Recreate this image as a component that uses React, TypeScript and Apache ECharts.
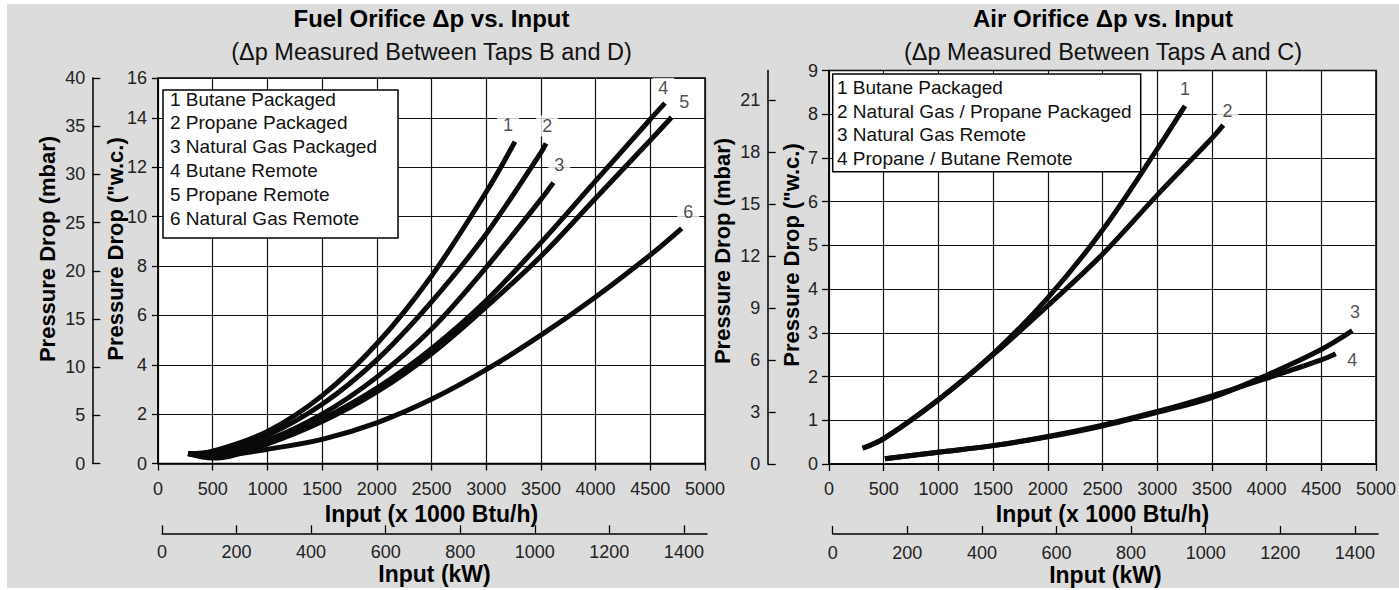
import React, { useEffect, useRef } from 'react';
import * as echarts from 'echarts';

const FONT = '"Liberation Sans", Arial, Helvetica, sans-serif';

// ---------- Fuel orifice chart (x: input x1000 Btu/h, y: pressure drop "w.c.) ----------
const fuelNames = [
  '1 Butane Packaged',
  '2 Propane Packaged',
  '3 Natural Gas Packaged',
  '4 Butane Remote',
  '5 Propane Remote',
  '6 Natural Gas Remote',
];
const fuelButanePackaged = [[275, 0.4], [500, 0.5], [1000, 1.3], [1500, 2.75], [2000, 4.85], [2500, 7.6], [3000, 11.0], [3263, 13.04]];
const fuelPropanePackaged = [[275, 0.4], [500, 0.45], [1000, 1.15], [1500, 2.4], [2000, 4.2], [2500, 6.55], [3000, 9.3], [3500, 12.6], [3547, 12.97]];
const fuelNatGasPackaged = [[275, 0.4], [500, 0.35], [1000, 0.95], [1500, 2.0], [2000, 3.5], [2500, 5.45], [3000, 7.95], [3500, 10.7], [3614, 11.38]];
const fuelButaneRemote = [[275, 0.4], [500, 0.28], [1000, 0.85], [1500, 1.8], [2000, 3.05], [2500, 4.65], [3000, 6.6], [3500, 8.95], [4000, 11.45], [4500, 13.95], [4634, 14.6]];
const fuelPropaneRemote = [[275, 0.4], [500, 0.22], [1000, 0.8], [1500, 1.7], [2000, 2.9], [2500, 4.45], [3000, 6.35], [3500, 8.4], [4000, 10.75], [4500, 13.1], [4695, 14.03]];
const fuelNatGasRemote = [[275, 0.4], [500, 0.3], [1000, 0.58], [1500, 0.98], [2000, 1.65], [2500, 2.6], [3000, 3.8], [3500, 5.2], [4000, 6.75], [4500, 8.45], [4787, 9.53]];
const fuelSeries = [fuelButanePackaged, fuelPropanePackaged, fuelNatGasPackaged, fuelButaneRemote, fuelPropaneRemote, fuelNatGasRemote];
const fuelCurveTags = ['1', '2', '3', '4', '5', '6'];
const fuelTagPositions = [[3199, 13.72], [3558, 13.68], [3668, 12.09], [4619, 15.2], [4811, 14.66], [4847, 10.18]];

// ---------- Air orifice chart ----------
const airNames = [
  '1 Butane Packaged',
  '2 Natural Gas / Propane Packaged',
  '3 Natural Gas Remote',
  '4 Propane / Butane Remote',
];
const airButanePackaged = [[307, 0.36], [500, 0.58], [1000, 1.47], [1500, 2.52], [2000, 3.8], [2500, 5.35], [3000, 7.2], [3254, 8.19]];
const airNatGasPropanePackaged = [[307, 0.36], [500, 0.58], [1000, 1.47], [1500, 2.5], [2000, 3.62], [2500, 4.8], [3000, 6.15], [3500, 7.45], [3604, 7.75]];
const airNatGasRemote = [[511, 0.12], [1000, 0.27], [1500, 0.42], [2000, 0.62], [2500, 0.87], [3000, 1.18], [3500, 1.52], [4000, 2.03], [4500, 2.62], [4784, 3.05]];
const airPropaneButaneRemote = [[511, 0.12], [1000, 0.27], [1500, 0.42], [2000, 0.63], [2500, 0.89], [3000, 1.2], [3500, 1.56], [4000, 1.96], [4500, 2.38], [4632, 2.52]];
const airSeries = [airButanePackaged, airNatGasPropanePackaged, airNatGasRemote, airPropaneButaneRemote];
const airCurveTags = ['1', '2', '3', '4'];
const airTagPositions = [[3254, 8.57], [3643, 8.07], [4808, 3.47], [4784, 2.38]];

// ---------- Axes ----------
const btuMax = 5000;
const btuStep = 500;
const kwTicks = [0, 200, 400, 600, 800, 1000, 1200, 1400];
const kwAxisEnd = 1462;
const wcLeftTicks = [0, 2, 4, 6, 8, 10, 12, 14];
const wcLeftTop = 15.62; // top border of the printed chart, labelled "16"
const wcLeftTopLabel = '16';
const mbarLeftMax = 40;
const mbarLeftStep = 5;
const wcRightMax = 9;
const wcRightStep = 1;
const mbarRightTicks = [0, 3, 6, 9, 12, 15, 18, 21];
const mbarRightEnd = 22.73;

const OX = 7;
const OY = 4;
const W = 1392;
const H = 584;

function App() {
  const ref = useRef<HTMLDivElement>(null);

  useEffect(() => {
    if (!ref.current) return;
    const chart = echarts.init(ref.current, null, { renderer: 'svg' });

    const plain = (v: number) => String(v);
    const labelStyle = { fontFamily: FONT, fontSize: 18, color: '#222' };
    const nameStyle = { fontFamily: FONT, fontSize: 23, fontWeight: 'bold' as const, color: '#000' };
    const blackLine = { color: '#000', width: 1.5 };
    const gridLine = { color: '#111', width: 1.2 };

    const btuAxis = (gridIndex: number) => ({
      type: 'value',
      gridIndex,
      min: 0,
      max: btuMax,
      interval: btuStep,
      axisLine: { show: true, lineStyle: blackLine },
      axisTick: { show: true, length: 7, lineStyle: { color: '#000', width: 1.3 } },
      axisLabel: { ...labelStyle, margin: 16, formatter: plain },
      splitLine: { show: true, lineStyle: gridLine },
      name: 'Input (x 1000 Btu/h)',
      nameLocation: 'middle',
      nameGap: 36,
      nameTextStyle: nameStyle,
    });

    const kwAxis = (gridIndex: number) => ({
      type: 'value',
      gridIndex,
      min: 0,
      max: kwAxisEnd,
      interval: 200,
      axisLine: { show: true, lineStyle: blackLine },
      axisTick: { show: true, inside: true, length: 8, customValues: kwTicks, lineStyle: { color: '#000', width: 1.3 } },
      axisLabel: {
        ...labelStyle,
        margin: 10,
        customValues: kwTicks,
        formatter: (v: number) => (kwTicks.indexOf(v) >= 0 ? String(v) : ''),
      },
      splitLine: { show: false },
      name: 'Input (kW)',
      nameLocation: 'middle',
      nameGap: 29,
      nameTextStyle: nameStyle,
    });

    const lineSeries = (name: string, data: number[][], xAxisIndex: number, yAxisIndex: number) => ({
      type: 'line',
      name,
      data,
      xAxisIndex,
      yAxisIndex,
      showSymbol: false,
      symbol: 'none',
      smooth: 0.35,
      silent: true,
      z: 3,
      lineStyle: { color: '#0a0a0a', width: 5 },
    });

    const tagSeries = (tags: string[], pos: number[][], xAxisIndex: number, yAxisIndex: number) => ({
      type: 'scatter',
      xAxisIndex,
      yAxisIndex,
      symbolSize: 0.1,
      silent: true,
      z: 5,
      itemStyle: { color: 'transparent' },
      data: tags.map((t, i) => ({ name: t, value: pos[i] })),
      label: {
        show: true,
        position: 'inside',
        formatter: '{b}',
        fontFamily: FONT,
        fontSize: 18,
        color: '#222',
        backgroundColor: '#fff',
        padding: [2, 6, 1, 6],
      },
    });

    const legendBox = (x: number, y: number, w: number, h: number, names: string[], tx: number, ty0: number, dy: number) => [
      {
        type: 'rect',
        z: 20,
        silent: true,
        shape: { x, y, width: w, height: h },
        style: { fill: '#fff', stroke: '#000', lineWidth: 1.5 },
      },
      ...names.map((n, i) => ({
        type: 'text',
        z: 21,
        silent: true,
        x: tx,
        y: ty0 + i * dy,
        style: { text: n, fontFamily: FONT, fontSize: 19, fill: '#111', align: 'left', verticalAlign: 'middle' },
      })),
    ];

    const yName = (text: string, x: number, y: number) => ({
      type: 'text',
      z: 21,
      silent: true,
      x,
      y,
      rotation: Math.PI / 2,
      style: { text, fontFamily: FONT, fontSize: 22, fontWeight: 'bold', fill: '#000', align: 'center', verticalAlign: 'middle' },
    });

    const titleBlock = (text: string, subtext: string, left: number) => ({
      text,
      subtext,
      left,
      top: 2,
      textAlign: 'center',
      textVerticalAlign: 'top',
      padding: 0,
      itemGap: 10,
      textStyle: { fontFamily: FONT, fontSize: 24, fontWeight: 'bold', color: '#000' },
      subtextStyle: { fontFamily: FONT, fontSize: 23.5, color: '#111' },
    });

    const option = {
      animation: false,
      backgroundColor: '#dcdcdc',
      title: [
        titleBlock('Fuel Orifice Δp vs. Input', '(Δp Measured Between Taps B and D)', 431.5 - OX),
        titleBlock('Air Orifice Δp vs. Input', '(Δp Measured Between Taps A and C)', 1103 - OX),
      ],
      grid: [
        { left: 158 - OX, top: 78 - OY, width: 547, height: 385.5, show: true, backgroundColor: '#fff', borderColor: '#000', borderWidth: 1.5 },
        { left: 162 - OX, top: 513.3 - OY, width: 545, height: 20 },
        { left: 829 - OX, top: 70.5 - OY, width: 548, height: 393.5, show: true, backgroundColor: '#fff', borderColor: '#000', borderWidth: 1.5 },
        { left: 832.7 - OX, top: 514 - OY, width: 545.3, height: 20 },
      ],
      xAxis: [btuAxis(0), kwAxis(1), btuAxis(2), kwAxis(3)],
      yAxis: [
        {
          type: 'value',
          gridIndex: 0,
          min: 0,
          max: wcLeftTop,
          interval: 2,
          axisLine: { show: true, lineStyle: blackLine },
          axisTick: { show: true, length: 6, customValues: [...wcLeftTicks, wcLeftTop], lineStyle: { color: '#000', width: 1.3 } },
          axisLabel: {
            ...labelStyle,
            margin: 11,
            customValues: [...wcLeftTicks, wcLeftTop],
            formatter: (v: number) => (v > wcLeftTicks[wcLeftTicks.length - 1] ? wcLeftTopLabel : String(v)),
          },
          splitLine: { show: true, lineStyle: gridLine },
        },
        {
          type: 'value',
          gridIndex: 0,
          position: 'left',
          offset: 158 - 92.3,
          min: 0,
          max: mbarLeftMax,
          interval: mbarLeftStep,
          axisLine: { show: true, lineStyle: blackLine },
          axisTick: { show: true, inside: true, length: 8, lineStyle: { color: '#000', width: 1.3 } },
          axisLabel: { ...labelStyle, margin: 7, formatter: plain },
          splitLine: { show: false },
        },
        { type: 'value', gridIndex: 1, show: false, min: 0, max: 1 },
        {
          type: 'value',
          gridIndex: 2,
          min: 0,
          max: wcRightMax,
          interval: wcRightStep,
          axisLine: { show: true, lineStyle: blackLine },
          axisTick: { show: true, length: 7, lineStyle: { color: '#000', width: 1.3 } },
          axisLabel: { ...labelStyle, margin: 11, formatter: plain },
          splitLine: { show: true, lineStyle: gridLine },
        },
        {
          type: 'value',
          gridIndex: 2,
          position: 'left',
          offset: 829 - 767.7,
          min: 0,
          max: mbarRightEnd,
          interval: 3,
          axisLine: { show: true, lineStyle: blackLine },
          axisTick: { show: true, inside: true, length: 8, customValues: mbarRightTicks, lineStyle: { color: '#000', width: 1.3 } },
          axisLabel: {
            ...labelStyle,
            margin: 7.5,
            customValues: mbarRightTicks,
            formatter: (v: number) => (mbarRightTicks.indexOf(v) >= 0 ? String(v) : ''),
          },
          splitLine: { show: false },
        },
        { type: 'value', gridIndex: 3, show: false, min: 0, max: 1 },
      ],
      series: [
        ...fuelSeries.map((d, i) => lineSeries(fuelNames[i], d, 0, 0)),
        tagSeries(fuelCurveTags, fuelTagPositions, 0, 0),
        ...airSeries.map((d, i) => lineSeries(airNames[i], d, 2, 3)),
        tagSeries(airCurveTags, airTagPositions, 2, 3),
      ],
      graphic: {
        elements: [
          ...legendBox(163 - OX, 90 - OY, 235, 148, fuelNames, 170 - OX, 99 - OY, 23.86),
          ...legendBox(832.7 - OX, 74 - OY, 308, 97.7, airNames, 837 - OX, 87.5 - OY, 23.6),
          yName('Pressure Drop (mbar)', 47.5 - OX, 249 - OY),
          yName('Pressure Drop ("w.c.)', 115 - OX, 249 - OY),
          yName('Pressure Drop (mbar)', 722.5 - OX, 251 - OY),
          yName('Pressure Drop ("w.c.)', 791 - OX, 255 - OY),
        ],
      },
    };

    chart.setOption(option as any);
    return () => {
      chart.dispose();
    };
  }, []);

  return (
    <div style={{ position: 'absolute', left: 0, top: 0, width: 1399, height: 590, background: '#fff' }}>
      <div ref={ref} style={{ position: 'absolute', left: OX, top: OY, width: W, height: H }} />
    </div>
  );
}

export default App;
